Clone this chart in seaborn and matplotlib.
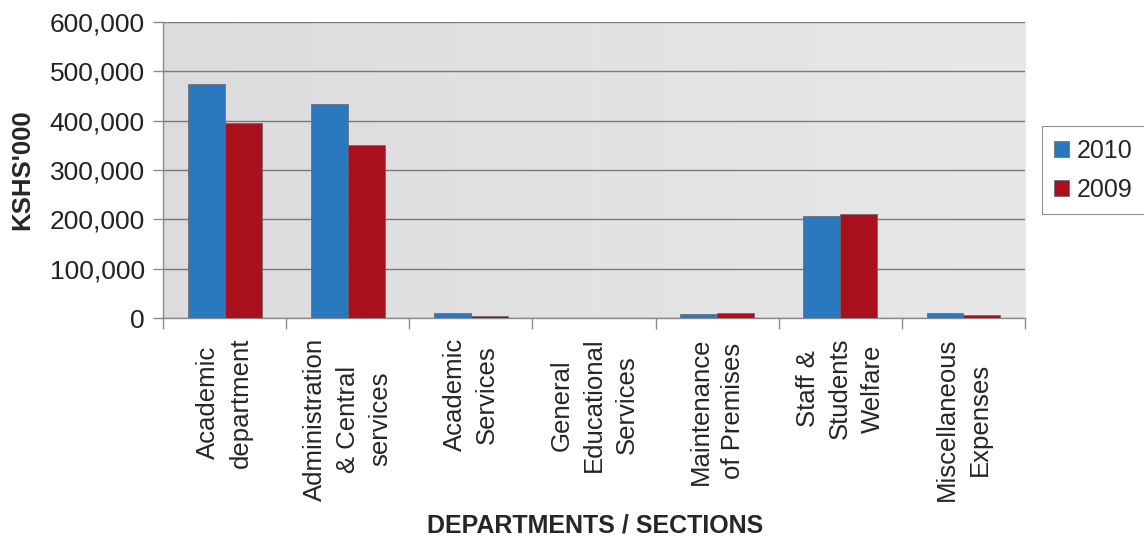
import matplotlib
matplotlib.use("Agg")
import matplotlib.pyplot as plt
from matplotlib.ticker import FuncFormatter, FixedLocator
import numpy as np
import pandas as pd
import seaborn as sns

# Spending per department, KSHS'000
departments = [
    "Academic department",
    "Administration & Central services",
    "Academic Services",
    "General Educational Services",
    "Maintenance of Premises",
    "Staff & Students Welfare",
    "Miscellaneous Expenses",
]
tick_labels = [
    "Academic\ndepartment",
    "Administration\n& Central\nservices",
    "Academic\nServices",
    "General\nEducational\nServices",
    "Maintenance\nof Premises",
    "Staff &\nStudents\nWelfare",
    "Miscellaneous\nExpenses",
]
years = ["2010", "2009"]
values_2010 = [475000, 433000, 10000, 0, 8000, 208000, 10000]
values_2009 = [396000, 350000, 5000, 0, 11000, 212000, 7000]
y_ticks = [0, 100000, 200000, 300000, 400000, 500000, 600000]

df = pd.DataFrame({
    "department": departments * 2,
    "year": [years[0]] * len(departments) + [years[1]] * len(departments),
    "value": values_2010 + values_2009,
})

sns.set_theme(style="white")
plt.rcParams["font.family"] = ["Liberation Sans", "DejaVu Sans"]

fig = plt.figure(figsize=(11.44, 5.43), dpi=100)
ax = fig.add_axes([0.1425, 0.414, 0.7535, 0.5455])

# light grey plot area with a faint left-to-right brightening
grad = np.linspace(0, 1, 256).reshape(1, -1)
ax.imshow(grad, extent=(0, 1, 0, 1), transform=ax.transAxes, aspect="auto",
          cmap=matplotlib.colors.LinearSegmentedColormap.from_list(
              "bg", ["#dcdcde", "#e8e8ea"]), zorder=0)

palette = {"2010": "#2a78bd", "2009": "#a90f1c"}
sns.barplot(data=df, x="department", y="value", hue="year", hue_order=years,
            order=departments, palette=palette, width=0.6, saturation=1,
            ax=ax, edgecolor="#666666", linewidth=0.5, zorder=3)

ax.set_xlim(-0.5, len(departments) - 0.5)
ax.set_ylim(0, 600000)
ax.set_yticks(y_ticks)
ax.yaxis.set_major_formatter(FuncFormatter(lambda v, p: f"{int(v):,}"))
ax.grid(axis="y", color="#7a7a7a", linewidth=1.0, zorder=1)
ax.set_axisbelow(True)

ax.set_xticks(range(len(departments)))
ax.set_xticklabels(tick_labels, rotation=90, ha="center", va="top",
                   multialignment="center", linespacing=1.45, fontsize=18.5)
ax.xaxis.set_minor_locator(FixedLocator(np.arange(-0.5, len(departments), 1)))
ax.tick_params(axis="x", which="major", length=0, pad=14)
ax.tick_params(axis="x", which="minor", length=8, width=1, color="#8a8a8a",
               bottom=True)
ax.tick_params(axis="y", length=7, width=1, color="#8a8a8a", left=True,
               labelsize=19, labelcolor="#222222", pad=6)

for side in ("top", "right"):
    ax.spines[side].set_visible(False)
for side in ("left", "bottom"):
    ax.spines[side].set_color("#8a8a8a")
    ax.spines[side].set_linewidth(1)

ax.set_xlabel("DEPARTMENTS / SECTIONS", fontsize=18, fontweight="bold")
ax.xaxis.set_label_coords(0.501, -0.70)
ax.xaxis.label.set_va("center")
ax.set_ylabel("KSHS'000", fontsize=18.5, fontweight="bold")
ax.yaxis.set_label_coords(-0.163, 0.5)
ax.yaxis.label.set_va("center")

leg = ax.legend(loc="center left", bbox_to_anchor=(1.005, 0.5), fontsize=18,
                frameon=True, handlelength=0.6, handleheight=0.6,
                handletextpad=0.3, borderpad=0.5, labelspacing=0.6,
                fancybox=False, edgecolor="#777777")
leg.get_frame().set_linewidth(0.8)

fig.savefig("out.png", dpi=100, facecolor="white")
